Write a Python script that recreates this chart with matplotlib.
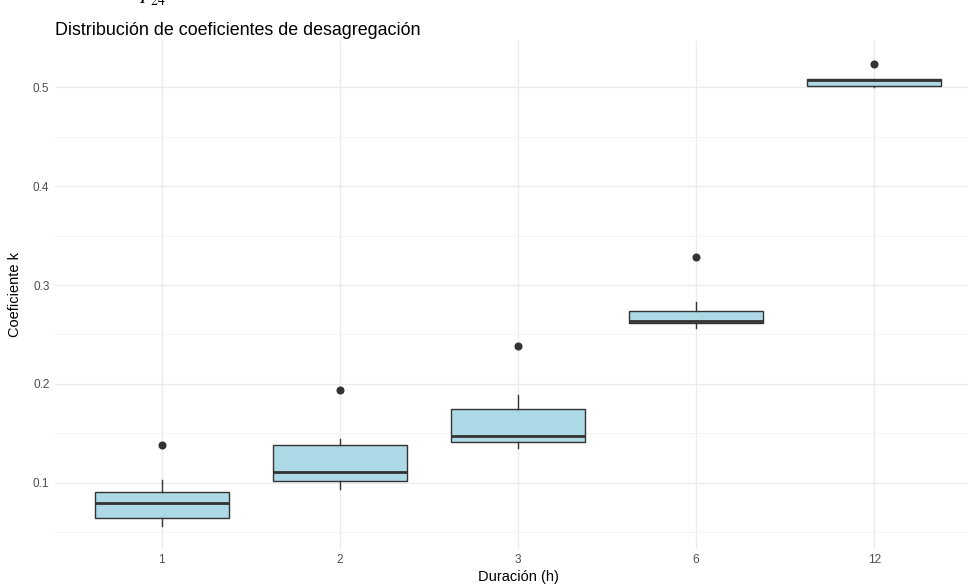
import matplotlib
matplotlib.use('Agg')
import matplotlib.pyplot as plt
import numpy as np

# Boxplot summaries
durations = ['1', '2', '3', '6', '12']
q1 = [0.065, 0.102, 0.1414, 0.2613, 0.5007]
medians = [0.0801, 0.1111, 0.1472, 0.2636, 0.5068]
q3 = [0.0912, 0.1384, 0.1744, 0.2734, 0.5078]
whis_lo = [0.0569, 0.0936, 0.1354, 0.2569, 0.5005]
whis_hi = [0.103, 0.1444, 0.1886, 0.2828, 0.5085]
outliers = [[0.1387], [0.1936], [0.2387], [0.3286], [0.5232]]

plt.rcParams['font.family'] = ['Liberation Sans', 'DejaVu Sans']
plt.rcParams['mathtext.fontset'] = 'stix'

fig = plt.figure(figsize=(9.68, 5.88), dpi=100)
ax = fig.add_axes([55 / 968, 1 - 548.7 / 588, (981 - 55) / 968, (548.7 - 41) / 588])

stats = []
for i in range(len(durations)):
    stats.append({'med': medians[i], 'q1': q1[i], 'q3': q3[i],
                  'whislo': whis_lo[i], 'whishi': whis_hi[i],
                  'fliers': outliers[i], 'label': durations[i]})

ax.bxp(stats, positions=np.arange(1, len(durations) + 1), widths=0.75,
       patch_artist=True, showcaps=False,
       boxprops=dict(facecolor='#ADD8E6', edgecolor='#333333', linewidth=1.0),
       medianprops=dict(color='#333333', linewidth=2.0),
       whiskerprops=dict(color='#333333', linewidth=1.0),
       flierprops=dict(marker='o', markerfacecolor='#333333', markeredgecolor='#333333',
                       markersize=4.8))

ax.set_xlim(0.4, 5.6)
ax.set_ylim(0.0336, 0.5465)
ax.set_yticks([0.1, 0.2, 0.3, 0.4, 0.5])
ax.set_yticklabels(['0.1', '0.2', '0.3', '0.4', '0.5'])
ax.set_yticks([0.05, 0.15, 0.25, 0.35, 0.45], minor=True)

ax.grid(True, which='major', color='#EBEBEB', linewidth=1.0)
ax.grid(True, which='minor', axis='y', color='#F2F2F2', linewidth=0.6)
ax.set_axisbelow(True)
for s in ax.spines.values():
    s.set_visible(False)
ax.tick_params(which='both', length=0, labelsize=8.5, labelcolor='#4D4D4D', pad=4)

ax.set_xlabel('Duración (h)', fontsize=10.5, color='black', labelpad=3)
ax.set_ylabel('Coeficiente k', fontsize=10.5, color='black', labelpad=8)

fig.text(55 / 968, 1 - 35 / 588, 'Distribución de coeficientes de desagregación',
         fontsize=12.9, ha='left', va='baseline')
# top of the title expression is cut off by the image edge
fig.text(139 / 968, 1 - 3 / 588, '$P_{24}$', fontsize=14, ha='left', va='baseline')

fig.savefig('out.png', dpi=100)
